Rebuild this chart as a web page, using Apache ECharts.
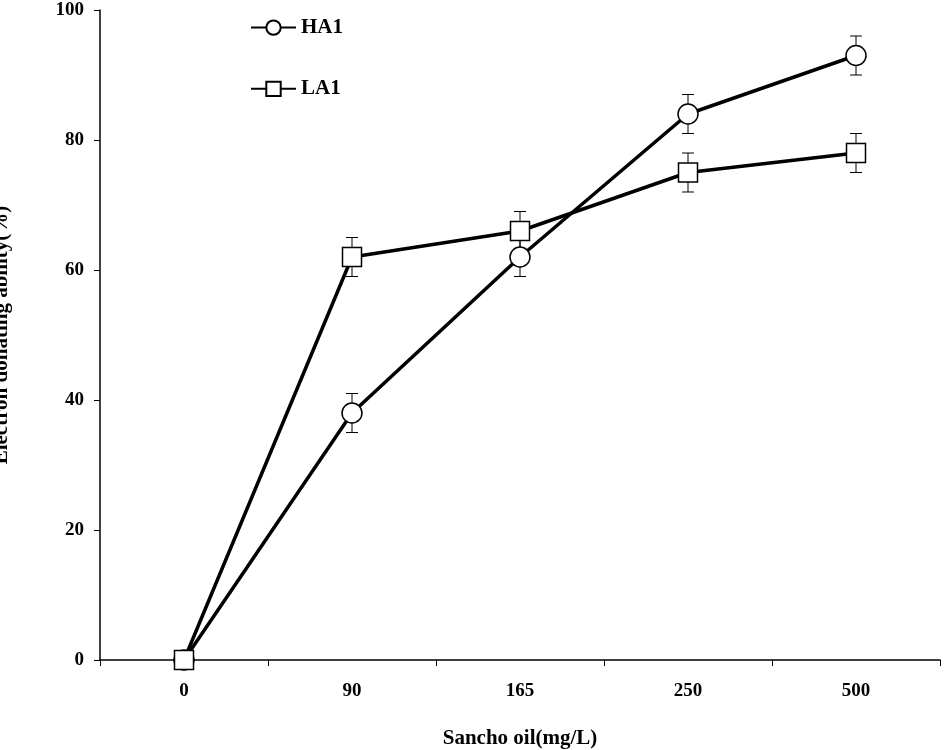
<!DOCTYPE html>
<html>
<head>
<script src="https://cdn.jsdelivr.net/npm/echarts@6/dist/echarts.min.js"></script>
<style>html,body{margin:0;padding:0;background:#fff}</style>
</head>
<body>
<div id="chart" style="width:945px;height:750px"></div>
<script>
var categories = ['0', '90', '165', '250', '500'];
var ha1 = [0, 38, 62, 84, 93];
var ha1Err = [0, 3, 3, 3, 3];
var la1 = [0, 62, 66, 75, 78];
var la1Err = [0, 3, 3, 3, 3];

var font = 'Liberation Serif';

function errSeries(vals, errs) {
    return {
        type: 'custom',
        z: 1,
        silent: true,
        data: vals.map(function (v, i) { return [i, v - errs[i], v + errs[i]]; }),
        renderItem: function (params, api) {
            var lo = api.coord([api.value(0), api.value(1)]);
            var hi = api.coord([api.value(0), api.value(2)]);
            var w = 6;
            var st = { stroke: '#000', lineWidth: 1 };
            return { type: 'group', children: [
                { type: 'line', shape: { x1: lo[0], y1: lo[1], x2: hi[0], y2: hi[1] }, style: st },
                { type: 'line', shape: { x1: lo[0] - w, y1: lo[1], x2: lo[0] + w, y2: lo[1] }, style: st },
                { type: 'line', shape: { x1: hi[0] - w, y1: hi[1], x2: hi[0] + w, y2: hi[1] }, style: st }
            ]};
        }
    };
}

var chart = echarts.init(document.getElementById('chart'));
chart.setOption({
    animation: false,
    textStyle: { fontFamily: font },
    grid: { left: 100, right: 5, top: 10, bottom: 90, outerBoundsMode: 'none', containLabel: false },
    legend: {
        left: 245, top: 6, orient: 'vertical', itemGap: 28,
        itemWidth: 45, itemHeight: 18,
        textStyle: { fontFamily: font, fontWeight: 'bold', fontSize: 21, color: '#000' },
        data: ['HA1', 'LA1']
    },
    xAxis: {
        type: 'category', data: categories, boundaryGap: true,
        name: 'Sancho oil(mg/L)', nameLocation: 'middle', nameGap: 62,
        nameTextStyle: { fontFamily: font, fontWeight: 'bold', fontSize: 21, color: '#000' },
        axisLine: { lineStyle: { color: '#000', width: 1.5 } },
        axisTick: { show: true, inside: false, length: 6, lineStyle: { color: '#000' } },
        axisLabel: { fontFamily: font, fontWeight: 'bold', fontSize: 19, color: '#000', margin: 16 }
    },
    yAxis: {
        type: 'value', min: 0, max: 100, interval: 20,
        name: 'Electron donating ability(%)', nameLocation: 'middle', nameGap: 82,
        nameTextStyle: { fontFamily: font, fontWeight: 'bold', fontSize: 21, color: '#000' },
        splitLine: { show: false },
        axisLine: { show: true, lineStyle: { color: '#000', width: 1.5 } },
        axisTick: { show: true, length: 6, lineStyle: { color: '#000' } },
        axisLabel: { fontFamily: font, fontWeight: 'bold', fontSize: 19, color: '#000', margin: 16 }
    },
    series: [
        errSeries(ha1, ha1Err),
        errSeries(la1, la1Err),
        {
            name: 'HA1', type: 'line', data: ha1, z: 3,
            symbol: 'circle', symbolSize: 20, showAllSymbol: true,
            lineStyle: { color: '#000', width: 3.5 },
            itemStyle: { color: '#fff', borderColor: '#000', borderWidth: 1.5 }
        },
        {
            name: 'LA1', type: 'line', data: la1, z: 3,
            symbol: 'rect', symbolSize: 19,
            lineStyle: { color: '#000', width: 3.5 },
            itemStyle: { color: '#fff', borderColor: '#000', borderWidth: 1.5 }
        }
    ]
});
</script>
</body>
</html>
